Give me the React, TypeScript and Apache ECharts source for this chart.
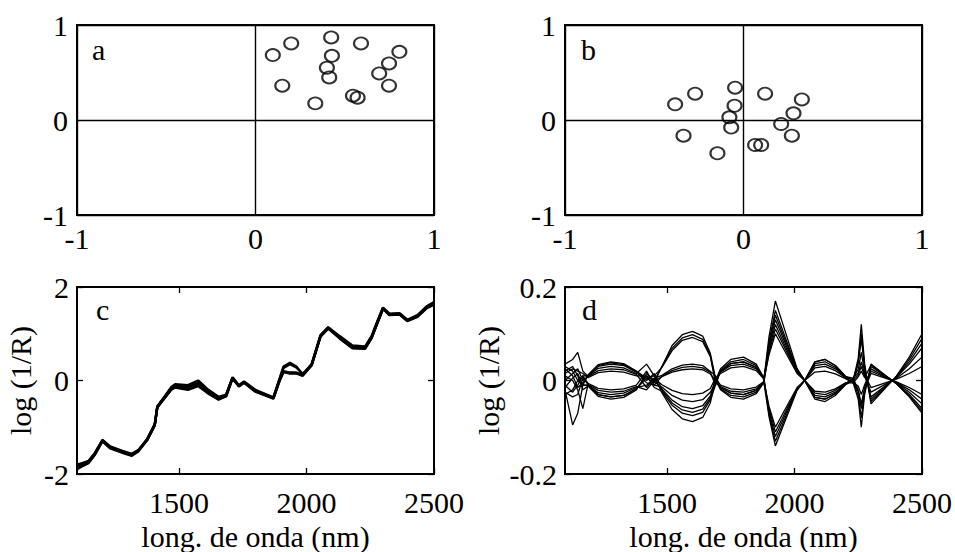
import React, { useEffect, useRef } from "react";
import * as echarts from "echarts";

// Panel a scores
const aX = [0.097, 0.2, 0.424, 0.591, 0.806, 0.428, 0.4, 0.413, 0.748, 0.693, 0.748, 0.15, 0.335, 0.546, 0.572];
const aY = [0.683, 0.806, 0.869, 0.806, 0.718, 0.676, 0.55, 0.448, 0.595, 0.49, 0.361, 0.361, 0.175, 0.256, 0.235];
// Panel b scores
const bX = [-0.383, -0.271, -0.047, -0.05, -0.079, -0.069, -0.336, -0.146, 0.121, 0.327, 0.28, 0.211, 0.271, 0.065, 0.099];
const bY = [0.165, 0.277, 0.34, 0.15, 0.028, -0.08, -0.165, -0.35, 0.277, 0.217, 0.07, -0.042, -0.165, -0.263, -0.263];

// Panel c spectra
const cWl = [1100,1145,1170,1200,1230,1275,1315,1340,1375,1405,1415,1445,1470,1485,1535,1575,1615,1655,1685,1710,1735,1755,1800,1830,1870,1895,1910,1935,1960,1985,2020,2055,2085,2130,2180,2230,2255,2280,2300,2325,2365,2395,2435,2470,2500];
const c1 = [-1.85,-1.74,-1.57,-1.28,-1.43,-1.52,-1.59,-1.5,-1.26,-0.94,-0.56,-0.35,-0.17,-0.11,-0.14,-0.05,-0.24,-0.38,-0.32,0.06,-0.11,-0.03,-0.22,-0.28,-0.37,0.02,0.2,0.17,0.16,0.12,0.34,0.96,1.13,0.93,0.72,0.71,0.93,1.28,1.55,1.42,1.43,1.29,1.38,1.56,1.65];
const c2 = [-1.82,-1.72,-1.55,-1.27,-1.41,-1.5,-1.57,-1.49,-1.25,-0.93,-0.55,-0.33,-0.14,-0.08,-0.1,0.0,-0.2,-0.35,-0.3,0.07,-0.1,-0.02,-0.2,-0.27,-0.36,0.05,0.3,0.38,0.3,0.13,0.35,0.97,1.14,0.95,0.75,0.73,0.95,1.3,1.56,1.43,1.44,1.3,1.4,1.58,1.68];
const c3 = [-1.88,-1.77,-1.59,-1.3,-1.45,-1.54,-1.61,-1.52,-1.28,-0.96,-0.58,-0.37,-0.2,-0.15,-0.2,-0.12,-0.28,-0.4,-0.34,0.04,-0.13,-0.05,-0.24,-0.3,-0.39,0.0,0.18,0.15,0.15,0.1,0.32,0.94,1.11,0.9,0.69,0.68,0.9,1.25,1.53,1.4,1.41,1.27,1.36,1.54,1.62];
const c4 = [-1.8,-1.73,-1.56,-1.28,-1.42,-1.51,-1.58,-1.51,-1.27,-0.95,-0.57,-0.34,-0.16,-0.1,-0.17,-0.08,-0.26,-0.39,-0.31,0.06,-0.12,-0.04,-0.23,-0.29,-0.38,0.04,0.27,0.35,0.28,0.14,0.33,0.95,1.12,0.92,0.71,0.7,0.92,1.27,1.54,1.41,1.42,1.28,1.37,1.57,1.66];
const c5 = [-1.9,-1.76,-1.58,-1.29,-1.44,-1.53,-1.6,-1.51,-1.27,-0.95,-0.57,-0.36,-0.18,-0.13,-0.18,-0.1,-0.27,-0.41,-0.33,0.05,-0.12,-0.04,-0.23,-0.29,-0.38,0.01,0.19,0.16,0.17,0.11,0.33,0.95,1.12,0.91,0.7,0.69,0.91,1.26,1.54,1.41,1.42,1.28,1.37,1.55,1.63];
const cLines = [c1, c2, c3, c4, c5];

// Panel d centred spectra
const dWl = [1100,1130,1150,1170,1190,1230,1280,1330,1380,1420,1450,1480,1520,1560,1600,1640,1670,1690,1710,1750,1800,1850,1880,1900,1925,1950,1980,2010,2040,2080,2120,2160,2200,2230,2250,2262,2275,2300,2350,2400,2450,2500];
const d1 = [0.03,0.02,0.0,-0.01,0.012,0.034,0.04,0.036,0.02,0.005,-0.005,0.03,0.075,0.098,0.105,0.095,0.058,0.005,-0.02,-0.036,-0.04,-0.028,-0.004,-0.077,-0.14,-0.105,-0.063,-0.021,0.0,0.04,0.045,0.032,0.009,0.0,0.048,0.12,0.036,-0.05,-0.02,0.01,0.05,0.1];
const d2 = [-0.02,-0.095,-0.07,-0.01,-0.01,-0.03,-0.035,-0.032,-0.018,0.01,0.0,0.029,0.069,0.091,0.098,0.088,0.054,0.0,0.025,0.045,0.05,0.035,0.005,-0.072,-0.13,-0.098,-0.058,-0.02,0.0,-0.036,-0.04,-0.028,-0.008,0.005,0.024,0.06,0.018,-0.035,-0.014,0.007,0.035,0.07];
const d3 = [0.035,0.045,0.06,0.02,0.009,0.026,0.03,0.027,0.015,0.035,0.01,0.028,0.064,0.086,0.092,0.083,0.051,-0.005,0.02,0.036,0.04,0.028,0.004,-0.066,-0.12,-0.09,-0.054,-0.018,0.0,0.027,0.03,0.021,0.006,-0.005,-0.04,-0.1,-0.03,0.035,0.014,-0.007,-0.035,-0.07];
const d4 = [0.01,0.0,-0.02,-0.06,-0.009,-0.026,-0.03,-0.027,-0.015,-0.01,0.005,0.011,0.025,0.033,0.035,0.032,0.019,0.01,-0.015,-0.027,-0.03,-0.021,-0.003,0.06,0.11,0.083,0.05,0.017,0.0,-0.04,-0.045,-0.032,-0.009,0.0,0.012,0.03,0.009,-0.025,-0.01,0.005,0.025,0.05];
const d5 = [-0.03,-0.02,0.0,0.01,0.01,0.03,0.035,0.032,0.018,-0.005,-0.01,0.009,0.021,0.028,0.03,0.027,0.017,-0.01,0.022,0.04,0.045,0.032,0.005,0.066,0.12,0.09,0.054,0.018,0.0,0.036,0.04,0.028,0.008,0.005,-0.02,-0.05,-0.015,0.025,0.01,-0.005,-0.025,-0.05];
const d6 = [0.02,0.03,0.01,-0.02,-0.012,-0.034,-0.04,-0.036,-0.02,0.015,0.0,0.008,0.018,0.023,0.025,0.023,0.014,0.0,-0.018,-0.032,-0.035,-0.025,-0.004,-0.06,-0.11,-0.083,-0.05,-0.017,0.0,-0.027,-0.03,-0.021,-0.006,0.0,0.036,0.09,0.027,-0.045,-0.018,0.009,0.045,0.09];
const d7 = [0.0,0.015,0.025,0.0,0.008,0.021,0.025,0.023,0.013,-0.015,0.005,-0.009,-0.021,-0.028,-0.03,-0.027,-0.017,0.005,0.015,0.027,0.03,0.021,0.003,0.094,0.17,0.128,0.077,0.026,0.0,0.032,0.035,0.025,0.007,0.0,-0.032,-0.08,-0.024,0.03,0.012,-0.006,-0.03,-0.06];
const d8 = [-0.01,-0.025,-0.01,0.01,-0.006,-0.017,-0.02,-0.018,-0.01,0.02,-0.01,-0.014,-0.032,-0.042,-0.045,-0.041,-0.025,-0.005,-0.013,-0.023,-0.025,-0.018,-0.003,0.083,0.15,0.113,0.068,0.023,0.0,-0.032,-0.035,-0.025,-0.007,0.005,0.016,0.04,0.012,-0.015,-0.006,0.003,0.015,0.03];
const d9 = [0.025,0.01,-0.015,-0.005,0.011,0.032,0.038,0.034,0.019,0.0,0.015,-0.018,-0.042,-0.056,-0.06,-0.054,-0.033,0.0,0.018,0.032,0.035,0.025,0.004,0.072,0.13,0.098,0.059,0.02,0.0,0.018,0.02,0.014,0.004,-0.005,-0.012,-0.03,-0.009,0.02,0.008,-0.004,-0.02,-0.04];
const d10 = [-0.025,-0.035,-0.03,0.005,-0.008,-0.021,-0.025,-0.023,-0.013,-0.02,0.0,-0.02,-0.048,-0.063,-0.068,-0.061,-0.037,0.005,-0.01,-0.018,-0.02,-0.014,-0.002,-0.055,-0.1,-0.075,-0.045,-0.015,0.0,-0.036,-0.04,-0.028,-0.008,0.0,0.04,0.1,0.03,-0.04,-0.016,0.008,0.04,0.08];
const d11 = [0.015,0.025,0.02,0.015,0.006,0.017,0.02,0.018,0.01,0.01,-0.015,-0.023,-0.053,-0.07,-0.075,-0.068,-0.041,-0.01,0.02,0.036,0.04,0.028,0.004,0.055,0.1,0.075,0.045,0.015,0.0,0.04,0.045,0.032,0.009,0.0,-0.024,-0.06,-0.018,0.015,0.006,-0.003,-0.015,-0.03];
const d12 = [-0.015,0.005,0.015,-0.01,-0.01,-0.03,-0.035,-0.032,-0.018,0.005,0.01,-0.026,-0.062,-0.082,-0.088,-0.079,-0.048,0.0,-0.015,-0.027,-0.03,-0.021,-0.003,0.077,0.14,0.105,0.063,0.021,0.0,-0.023,-0.025,-0.018,-0.005,-0.005,0.008,0.02,0.006,0.033,0.013,-0.007,-0.033,-0.065];
const dLines = [d1, d2, d3, d4, d5, d6, d7, d8, d9, d10, d11, d12];

const wlTicks = [1500, 2000, 2500];

const FONT = "Liberation Serif";
const FS = 30;

export default function App() {
  const ref = useRef<HTMLDivElement>(null);
  useEffect(() => {
    if (!ref.current) return;
    const chart = echarts.init(ref.current, undefined, { renderer: "svg" });
    const W = 357;
    const grids = [
      { left: 77, top: 25, width: W, height: 190 },
      { left: 565, top: 25, width: W, height: 190 },
      { left: 77, top: 287, width: W, height: 192 },
      { left: 565, top: 287, width: W, height: 192 },
    ].map((g) => ({ ...g, show: true, borderColor: "#000", borderWidth: 2, backgroundColor: "transparent" }));

    const fmt = (v: number) => String(v);
    const lbl = { color: "#000", fontFamily: FONT, fontSize: FS };
    const scoreAxis = (gi: number, dir: "x" | "y") => ({
      type: "value",
      gridIndex: gi,
      min: -1,
      max: 1,
      interval: 1,
      axisLine: { show: false, onZero: false },
      axisTick: { show: false },
      splitLine: { show: true, lineStyle: { color: "#000", width: 1.4 } },
      axisLabel: { ...lbl, margin: dir === "x" ? 8 : 9, formatter: fmt, showMinLabel: true, showMaxLabel: true },
    });
    const wlAxis = (gi: number, pos: "bottom" | "top") => ({
      type: "value",
      gridIndex: gi,
      position: pos,
      min: 1100,
      max: 2500,
      axisLine: { show: false, onZero: false },
      axisTick: { show: true, inside: true, length: 6, customValues: wlTicks, lineStyle: { color: "#000", width: 1.3 } },
      splitLine: { show: false },
      axisLabel: pos === "bottom" ? { ...lbl, margin: 13, formatter: fmt, customValues: wlTicks } : { show: false },
      name: pos === "bottom" ? "long. de onda (nm)" : "",
      nameLocation: "middle",
      nameGap: 47,
      nameTextStyle: { ...lbl },
    });
    const specY = (gi: number, pos: "left" | "right", lim: number, gap: number) => ({
      type: "value",
      gridIndex: gi,
      position: pos,
      min: -lim,
      max: lim,
      interval: lim,
      axisLine: { show: false, onZero: false },
      axisTick: { show: true, inside: true, length: 6, lineStyle: { color: "#000", width: 1.3 } },
      splitLine: { show: false },
      axisLabel: pos === "left" ? { ...lbl, margin: 8, formatter: fmt, showMinLabel: true, showMaxLabel: true } : { show: false },
      name: pos === "left" ? "log (1/R)" : "",
      nameLocation: "middle",
      nameGap: gap,
      nameRotate: 90,
      nameTextStyle: { ...lbl },
    });

    const xAxis = [
      scoreAxis(0, "x"),
      scoreAxis(1, "x"),
      wlAxis(2, "bottom"),
      wlAxis(3, "bottom"),
      wlAxis(2, "top"),
      wlAxis(3, "top"),
    ];
    const yAxis = [
      scoreAxis(0, "y"),
      scoreAxis(1, "y"),
      specY(2, "left", 2, 42),
      specY(3, "left", 0.2, 62),
      specY(2, "right", 2, 42),
      specY(3, "right", 0.2, 62),
    ];

    const scatterStyle = {
      type: "scatter",
      symbol: "circle",
      symbolSize: [14, 12],
      itemStyle: { color: "rgba(0,0,0,0)", borderColor: "#000", borderWidth: 2 },
      silent: true,
    };
    const series: any[] = [
      { ...scatterStyle, xAxisIndex: 0, yAxisIndex: 0, data: aX.map((x, i) => [x, aY[i]]) },
      { ...scatterStyle, xAxisIndex: 1, yAxisIndex: 1, data: bX.map((x, i) => [x, bY[i]]) },
    ];
    cLines.forEach((arr) =>
      series.push({
        type: "line",
        xAxisIndex: 2,
        yAxisIndex: 2,
        showSymbol: false,
        symbol: "none",
        lineStyle: { color: "#000", width: 2.4 },
        data: cWl.map((x, i) => [x, arr[i]]),
        silent: true,
      })
    );
    dLines.forEach((arr) =>
      series.push({
        type: "line",
        xAxisIndex: 3,
        yAxisIndex: 3,
        showSymbol: false,
        symbol: "none",
        lineStyle: { color: "#000", width: 1.3 },
        data: dWl.map((x, i) => [x, arr[i]]),
        silent: true,
      })
    );

    const letter = (t: string, x: number, y: number) => ({
      type: "text",
      left: x,
      top: y,
      style: { text: t, fill: "#000", fontFamily: FONT, fontSize: FS },
    });

    chart.setOption({
      animation: false,
      backgroundColor: "#fff",
      grid: grids,
      xAxis,
      yAxis,
      series,
      graphic: [letter("a", 92, 34), letter("b", 581, 34), letter("c", 96, 294), letter("d", 582, 294)],
    });
    return () => chart.dispose();
  }, []);
  return (
    <div
      ref={ref}
      style={{ position: "fixed", left: 0, top: 0, width: 955, height: 552, background: "#fff" }}
    />
  );
}
